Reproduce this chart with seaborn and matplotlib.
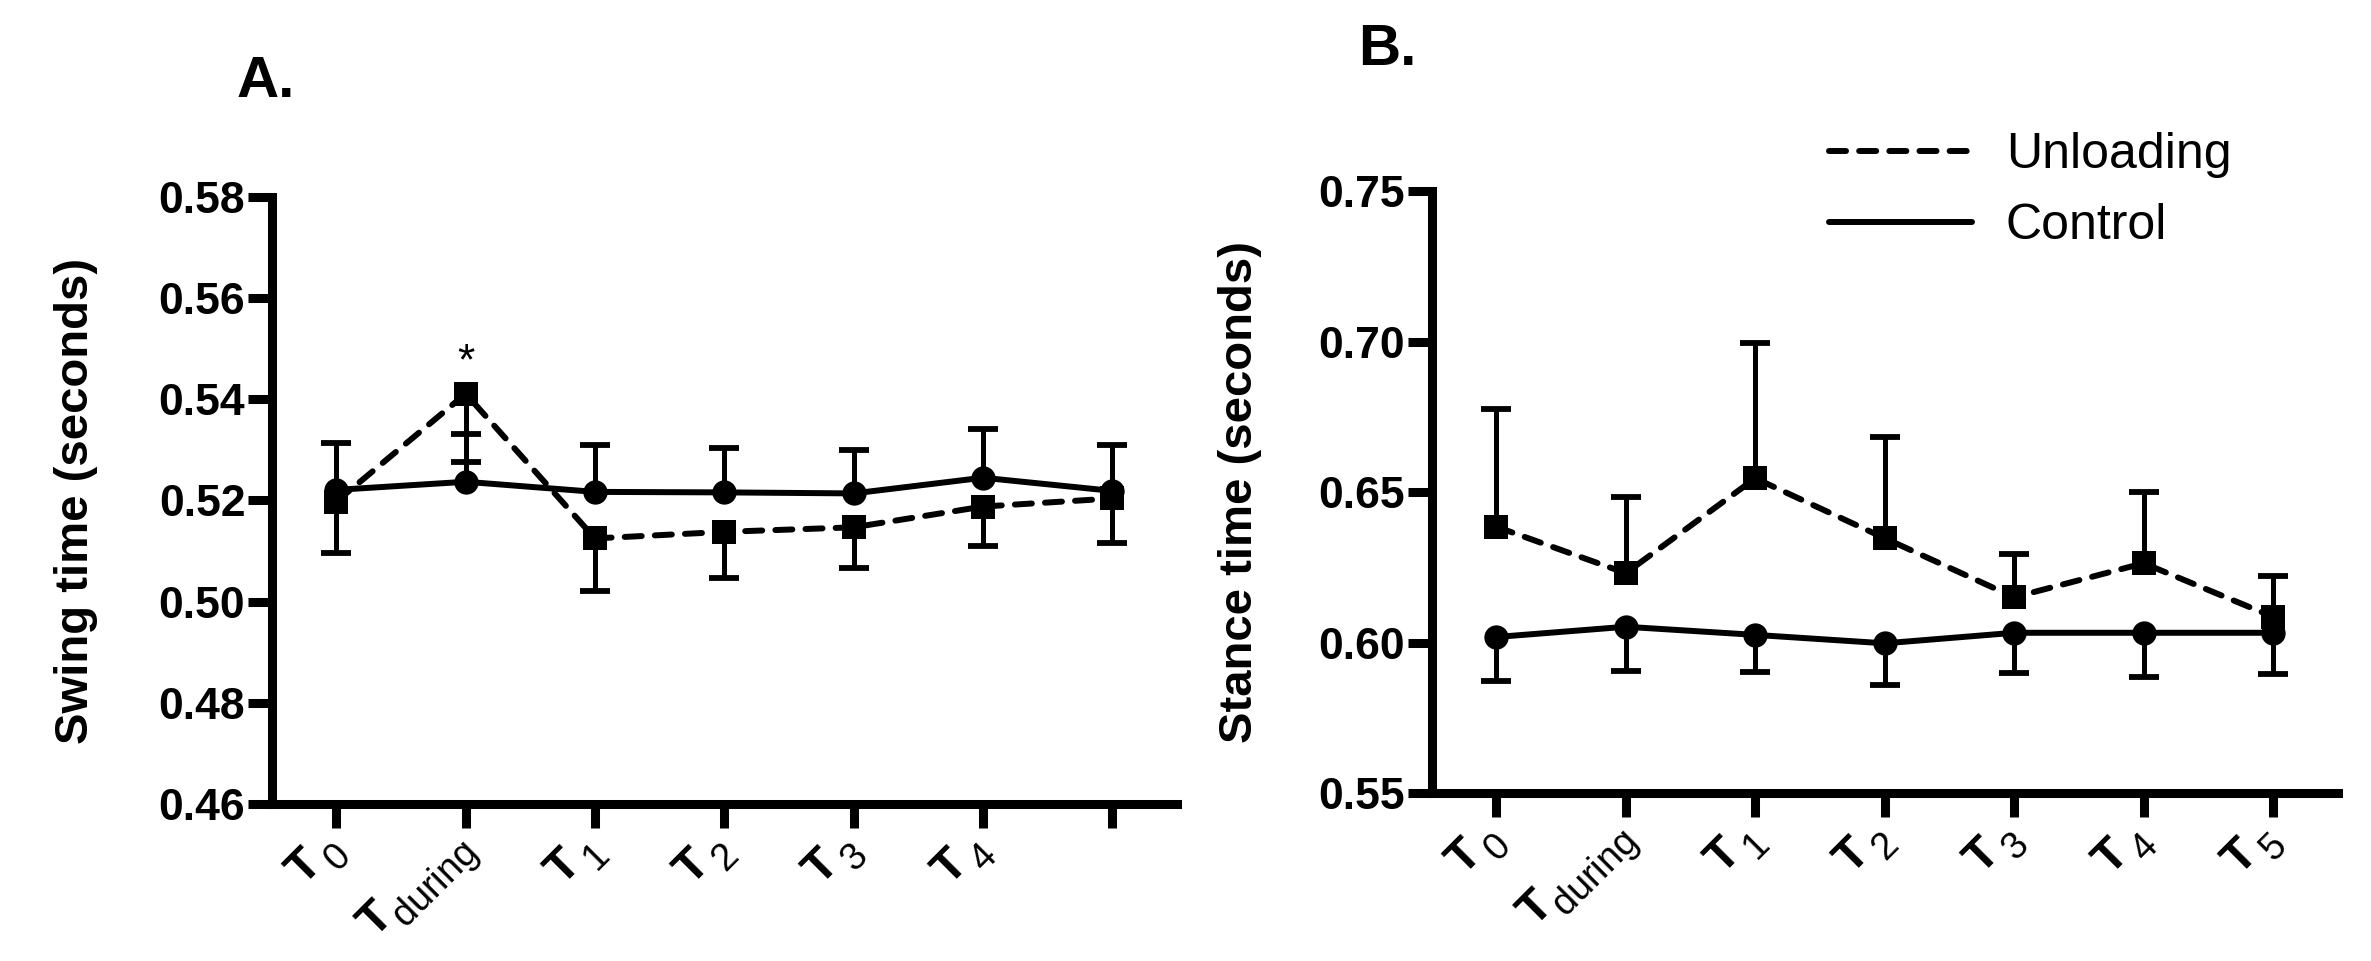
import numpy as np
import pandas as pd
import seaborn as sns
import matplotlib.pyplot as plt
import matplotlib.ticker as mtick
import matplotlib._mathtext as mathtext_internal
from matplotlib.lines import Line2D

#%% values (means and the one-sided SD bar ends)
time_pos = [0, 1, 2, 3, 4, 5, 6]
labels_a = [r"$\mathbf{T}_{\,\mathrm{0}}$", r"$\mathbf{T}_{\mathrm{during}}$", r"$\mathbf{T}_{\,\mathrm{1}}$",
            r"$\mathbf{T}_{\,\mathrm{2}}$", r"$\mathbf{T}_{\,\mathrm{3}}$", r"$\mathbf{T}_{\,\mathrm{4}}$", ""]
labels_b = labels_a[:6] + [r"$\mathbf{T}_{\,\mathrm{5}}$"]

swing_control = [0.5221, 0.5237, 0.5217, 0.5216, 0.5214, 0.5245, 0.5219]
swing_control_bar = [0.5314, 0.5332, 0.5310, 0.5304, 0.5299, 0.5341, 0.5310]
swing_unload = [0.5198, 0.5411, 0.5125, 0.5138, 0.5147, 0.5188, 0.5204]
swing_unload_bar = [0.5096, 0.5277, 0.5022, 0.5046, 0.5066, 0.5110, 0.5115]

stance_control = [0.6019, 0.6053, 0.6026, 0.5998, 0.6033, 0.6033, 0.6033]
stance_control_bar = [0.5873, 0.5906, 0.5902, 0.5860, 0.5899, 0.5887, 0.5895]
stance_unload = [0.6385, 0.6231, 0.6546, 0.6347, 0.6151, 0.6264, 0.6086]
stance_unload_bar = [0.6775, 0.6485, 0.6994, 0.6684, 0.6294, 0.6501, 0.6221]

#%% style: plain black on white
sns.set_style("ticks")
plt.rcParams['font.family'] = ['Liberation Sans', 'DejaVu Sans']
plt.rcParams['mathtext.fontset'] = 'custom'
plt.rcParams['mathtext.rm'] = 'Liberation Sans'
plt.rcParams['mathtext.bf'] = 'Liberation Sans:bold'
plt.rcParams['mathtext.it'] = 'Liberation Sans:italic'
for key in ['text.color', 'axes.edgecolor', 'axes.labelcolor', 'xtick.color', 'ytick.color']:
    plt.rcParams[key] = 'black'
# subscripts in the original are only a bit smaller than the T, and sit lower
mathtext_internal.SHRINK_FACTOR = 0.8
mathtext_internal.FontConstantsBase.sub1 = 0.6

DASH = (2.85, 2.2)
LW = 4.3


def draw_panel(ax, control, control_bar, unload, unload_bar, ylim, ystep, ylabel, xlabels, label_x):
    # one-sided error bars, drawn under the lines
    for mean, bar in [(control, control_bar), (unload, unload_bar)]:
        mean = np.array(mean)
        bar = np.array(bar)
        lower = np.clip(mean - bar, 0, None)
        upper = np.clip(bar - mean, 0, None)
        eb = ax.errorbar(time_pos, mean, yerr=[lower, upper], fmt='none', ecolor='black',
                         elinewidth=3.6, capsize=11, capthick=4.2, zorder=2)
        # hide the cap that sits on the mean
        if bar.mean() > mean.mean():
            eb[1][0].set_visible(False)
        else:
            eb[1][1].set_visible(False)

    df = pd.DataFrame({
        "Time": time_pos * 2,
        "Value": list(unload) + list(control),
        "Group": ["Unloading"] * 7 + ["Control"] * 7,
    })
    sns.lineplot(data=df, x="Time", y="Value", style="Group",
                 markers={"Unloading": "s", "Control": "o"},
                 dashes={"Unloading": DASH, "Control": ""},
                 color="black", linewidth=LW, markersize=17.5,
                 markeredgecolor="black", markeredgewidth=0,
                 dash_capstyle="round", legend=False, ax=ax, zorder=3,
                 estimator=None, sort=False)

    ax.set_xlim(-0.5, 6.5)
    ax.set_ylim(*ylim)
    ax.set_yticks(np.arange(ylim[0], ylim[1] + ystep / 2, ystep))
    ax.yaxis.set_major_formatter(mtick.FormatStrFormatter('%.2f'))
    ax.set_xticks(time_pos)
    ax.set_xticklabels(xlabels, rotation=45, ha='right', va='center', rotation_mode='anchor',
                       fontsize=34)
    ax.set_xlabel("")
    ax.set_ylabel(ylabel, fontsize=34, fontweight='bold')
    ax.yaxis.set_label_coords(label_x, 0.5)
    ax.yaxis.label.set_va('center')

    sns.despine(ax=ax)
    for side in ['left', 'bottom']:
        ax.spines[side].set_linewidth(6.5)
        ax.spines[side].set_color('black')
    ax.tick_params(axis='both', length=17, width=6.5, direction='out', colors='black')
    ax.tick_params(axis='y', labelsize=32, pad=2)
    ax.tick_params(axis='x', pad=10)
    for lab in ax.get_yticklabels():
        lab.set_fontweight('bold')


#%% figure
fig = plt.figure(figsize=(23.71, 9.61), dpi=100)
ax_a = fig.add_axes([0.1146, 0.1634, 0.3818, 0.6316])
ax_b = fig.add_axes([0.6038, 0.1745, 0.3822, 0.6268])

draw_panel(ax_a, swing_control, swing_control_bar, swing_unload, swing_unload_bar,
           (0.46, 0.58), 0.02, "Swing time (seconds)", labels_a, -0.216)
draw_panel(ax_b, stance_control, stance_control_bar, stance_unload, stance_unload_bar,
           (0.55, 0.75), 0.05, "Stance time (seconds)", labels_b, -0.2115)

# significance mark above T during
ax_a.text(1, 0.545, "*", fontsize=32, ha='center', va='baseline')

fig.text(237 / 2371, 1 - 97 / 961, "A.", fontsize=42, fontweight='bold', va='baseline')
fig.text(1358 / 2371, 1 - 65 / 961, "B.", fontsize=42, fontweight='bold', va='baseline')

handles = [Line2D([], [], color='black', lw=LW, dashes=DASH, dash_capstyle='round'),
           Line2D([], [], color='black', lw=LW)]
fig.legend(handles, ["Unloading", "Control"], loc='upper left',
           bbox_to_anchor=(1829 / 2371, 1 - 132 / 961), frameon=False, fontsize=36,
           handlelength=2.86, handletextpad=0.68, labelspacing=0.5,
           borderpad=0, borderaxespad=0)

fig.savefig("out.png", dpi=100)
